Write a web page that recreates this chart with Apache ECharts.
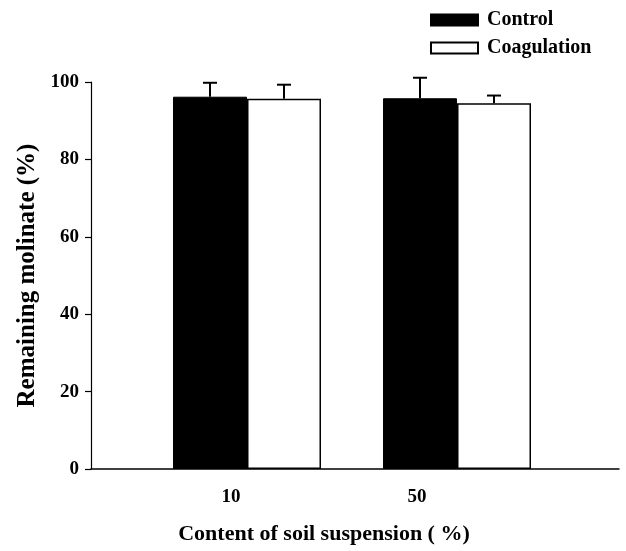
<!DOCTYPE html>
<html>
<head>
<meta charset="utf-8">
<script src="https://cdn.jsdelivr.net/npm/echarts@6/dist/echarts.min.js"></script>
<style>
  html, body { margin: 0; padding: 0; background: #fff; }
  #chart { width: 626px; height: 551px; }
</style>
</head>
<body>
<div id="chart"></div>
<script>
// Soil suspension content (%) on the x axis
const categories = ['10', '50'];
// Remaining molinate (%) with standard deviations
const controlValues = [96.2, 95.8];
const controlErrors = [3.6, 5.3];
const coagulationValues = [95.7, 94.5];
const coagulationErrors = [3.6, 2.0];
const yTicks = { min: 0, max: 100, interval: 20 };

const FONT = '"Liberation Serif", "Times New Roman", serif';
const BAR_W = 74;

// Error bar drawn above each bar, shifted to the bar's slot in the group
function errorBarSeries(name, values, errors, side) {
  return {
    name: name + ' error',
    type: 'custom',
    xAxisIndex: 0,
    yAxisIndex: 0,
    z: 5,
    silent: true,
    data: values.map((v, i) => [i, v, v + errors[i]]),
    renderItem: function (params, api) {
      const c = api.coord([api.value(0), api.value(1)]);
      const top = api.coord([api.value(0), api.value(2)]);
      const x = c[0] + side * BAR_W / 2;
      const cap = 7;
      const st = { stroke: '#000', lineWidth: 2 };
      return {
        type: 'group',
        children: [
          { type: 'line', shape: { x1: x, y1: c[1], x2: x, y2: top[1] }, style: st },
          { type: 'line', shape: { x1: x - cap, y1: top[1], x2: x + cap, y2: top[1] }, style: st }
        ]
      };
    }
  };
}

const chart = echarts.init(document.getElementById('chart'), null, { renderer: 'canvas' });
chart.setOption({
  animation: false,
  backgroundColor: '#fff',
  textStyle: { fontFamily: FONT },
  legend: {
    orient: 'vertical',
    left: 425,
    top: 5,
    itemWidth: 47,
    itemHeight: 11,
    itemGap: 8,
    icon: 'rect',
    data: ['Control', 'Coagulation'],
    textStyle: { fontFamily: FONT, fontWeight: 'bold', fontSize: 20, color: '#000', lineHeight: 20, padding: [0, 0, 0, 4] }
  },
  grid: [
    // bars
    { left: 142, width: 420, top: 82, bottom: 82 },
    // long baseline
    { left: 91, right: 7, top: 82, bottom: 82 },
    // category labels
    { left: 138, width: 372, top: 82, bottom: 82 }
  ],
  xAxis: [
    {
      gridIndex: 0, type: 'category', data: categories,
      axisLine: { show: false }, axisTick: { show: false }, axisLabel: { show: false }
    },
    {
      gridIndex: 1, type: 'value', min: 0, max: 1,
      axisLine: { show: true, lineStyle: { color: '#000', width: 1.5 } },
      axisTick: { show: false }, axisLabel: { show: false }, splitLine: { show: false }
    },
    {
      gridIndex: 2, type: 'category', data: categories,
      axisLine: { show: false }, axisTick: { show: false },
      axisLabel: { fontFamily: FONT, fontWeight: 'bold', fontSize: 19, color: '#000', margin: 19 },
      name: 'Content of soil suspension ( %)',
      nameLocation: 'middle',
      nameGap: 54,
      nameTextStyle: { fontFamily: FONT, fontWeight: 'bold', fontSize: 22, color: '#000' }
    }
  ],
  yAxis: [
    {
      gridIndex: 0, type: 'value',
      min: yTicks.min, max: yTicks.max, interval: yTicks.interval,
      offset: 51,
      axisLine: { show: true, lineStyle: { color: '#000', width: 1.2 } },
      axisTick: { show: true, length: 6, lineStyle: { color: '#000', width: 1.2 } },
      axisLabel: { fontFamily: FONT, fontWeight: 'bold', fontSize: 19, color: '#000', margin: 12 },
      splitLine: { show: false },
      name: 'Remaining molinate (%)',
      nameLocation: 'middle',
      nameGap: 51,
      nameTextStyle: { fontFamily: FONT, fontWeight: 'bold', fontSize: 25, color: '#000' }
    },
    { gridIndex: 1, type: 'value', min: 0, max: 100, show: false },
    { gridIndex: 2, type: 'value', min: 0, max: 100, show: false }
  ],
  series: [
    {
      name: 'Control', type: 'bar', xAxisIndex: 0, yAxisIndex: 0,
      data: controlValues, barWidth: BAR_W, barGap: '0%',
      itemStyle: { color: '#000', borderColor: '#000', borderWidth: 1 }
    },
    {
      name: 'Coagulation', type: 'bar', xAxisIndex: 0, yAxisIndex: 0,
      data: coagulationValues, barWidth: BAR_W, barGap: '0%',
      itemStyle: { color: '#fff', borderColor: '#000', borderWidth: 1.5 }
    },
    errorBarSeries('Control', controlValues, controlErrors, -1),
    errorBarSeries('Coagulation', coagulationValues, coagulationErrors, 1)
  ]
});
</script>
</body>
</html>
